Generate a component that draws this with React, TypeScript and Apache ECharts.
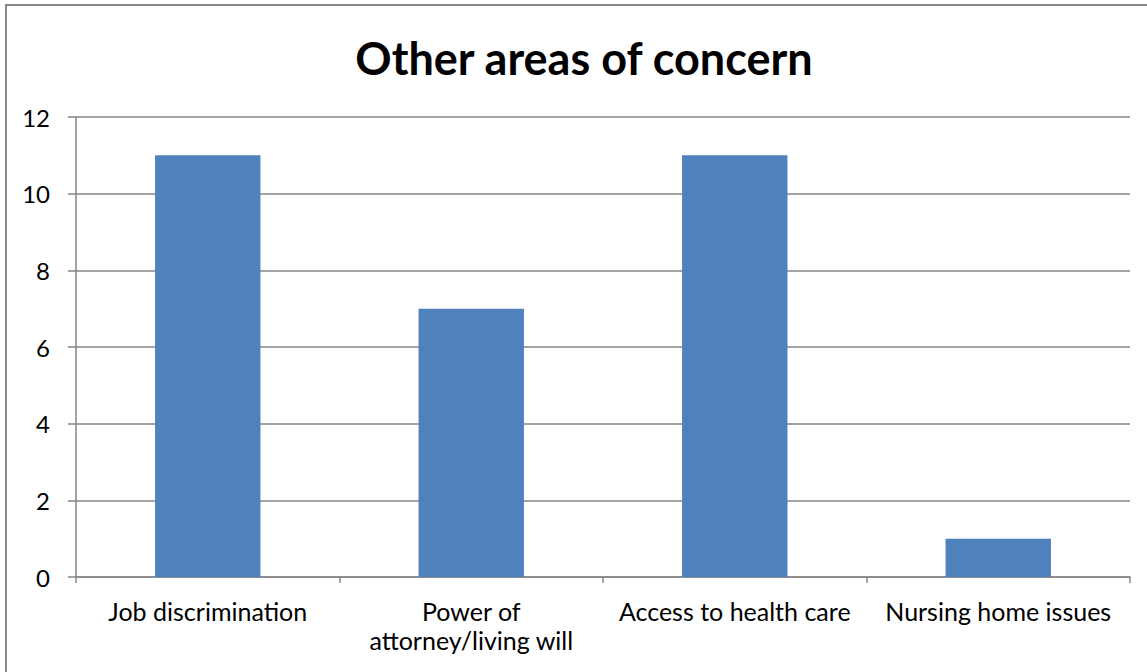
import React, { useEffect, useRef } from "react";
import * as echarts from "echarts";

const categories = [
  "Job discrimination",
  "Power of\nattorney/living will",
  "Access to health care",
  "Nursing home issues",
];
const values = [11, 7, 11, 1];
const yTicks = { min: 0, max: 12, interval: 2 };
const titleText = "Other areas of concern";

export default function App() {
  const ref = useRef<HTMLDivElement>(null);
  useEffect(() => {
    const chart = echarts.init(ref.current!, null, { renderer: "svg" });
    const font = "Lato";
    chart.setOption({
      animation: false,
      backgroundColor: "#ffffff",
      title: {
        text: titleText,
        left: 579,
        top: 30,
        textAlign: "center",
        textStyle: { fontFamily: font, fontWeight: "bold", fontSize: 45, color: "#000" },
      },
      graphic: [
        {
          type: "rect",
          shape: { x: 6, y: 5, width: 1300, height: 800 },
          style: { fill: "none", stroke: "#888888", lineWidth: 2 },
          silent: true,
        },
      ],
      grid: { left: 76, right: 17, top: 117, bottom: 95 },
      xAxis: {
        type: "category",
        data: categories,
        axisLine: { lineStyle: { color: "#868686", width: 1.5 } },
        axisTick: { show: true, length: 6, lineStyle: { color: "#868686", width: 1.5 } },
        axisLabel: {
          color: "#000",
          fontFamily: font,
          fontSize: 25,
          lineHeight: 29,
          margin: 19,
          interval: 0,
        },
      },
      yAxis: {
        type: "value",
        min: yTicks.min,
        max: yTicks.max,
        interval: yTicks.interval,
        axisLine: { show: true, lineStyle: { color: "#868686", width: 1.5 } },
        axisTick: { show: true, length: 8, lineStyle: { color: "#868686", width: 1.5 } },
        splitLine: { show: true, lineStyle: { color: "#868686", width: 1.5 } },
        axisLabel: { color: "#000", fontFamily: font, fontSize: 24, margin: 26 },
      },
      series: [
        {
          type: "bar",
          data: values,
          barWidth: "40%",
          itemStyle: { color: "#4F81BD" },
        },
      ],
    });
    return () => chart.dispose();
  }, []);
  return (
    <div
      ref={ref}
      style={{ position: "fixed", left: 0, top: 0, width: 1147, height: 672 }}
    />
  );
}
